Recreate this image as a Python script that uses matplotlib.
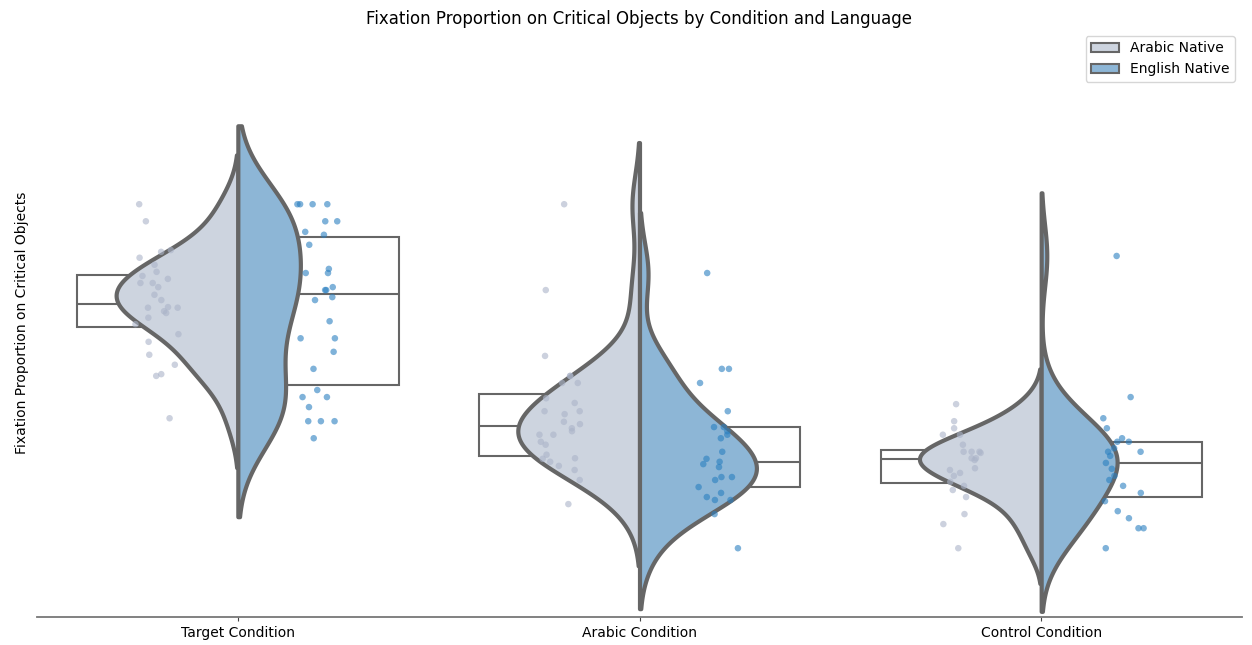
import numpy as np
import matplotlib
matplotlib.use("Agg")
import matplotlib.pyplot as plt
from matplotlib.patches import Patch

# ---------------- data ----------------
conditions = ["Target Condition", "Arabic Condition", "Control Condition"]
languages = ["Arabic Native", "English Native"]

target_arabic = [0.702, 0.673, 0.624, 0.621, 0.611, 0.599, 0.587, 0.580, 0.575, 0.568,
                 0.568, 0.561, 0.548, 0.539, 0.527, 0.526, 0.526, 0.520, 0.517, 0.509,
                 0.498, 0.481, 0.468, 0.446, 0.429, 0.413, 0.410, 0.338]
target_english = [0.702, 0.702, 0.702, 0.702, 0.673, 0.673, 0.655, 0.650, 0.633, 0.592,
                  0.585, 0.585, 0.561, 0.556, 0.556, 0.544, 0.539, 0.503, 0.474, 0.474,
                  0.451, 0.422, 0.386, 0.374, 0.374, 0.357, 0.333, 0.333, 0.333, 0.304]
arabiccond_arabic = [0.702, 0.556, 0.444, 0.410, 0.410, 0.398, 0.398, 0.372, 0.364, 0.350,
                     0.350, 0.345, 0.332, 0.328, 0.321, 0.316, 0.310, 0.310, 0.298, 0.293,
                     0.276, 0.270, 0.269, 0.264, 0.257, 0.250, 0.233, 0.192]
arabiccond_english = [0.585, 0.422, 0.422, 0.398, 0.350, 0.323, 0.323, 0.316, 0.310, 0.304,
                      0.281, 0.269, 0.264, 0.260, 0.255, 0.238, 0.238, 0.233, 0.221, 0.211,
                      0.204, 0.199, 0.199, 0.175, 0.117]
control_arabic = [0.362, 0.333, 0.321, 0.310, 0.310, 0.293, 0.281, 0.281, 0.281, 0.279,
                  0.270, 0.270, 0.267, 0.253, 0.250, 0.245, 0.240, 0.230, 0.223, 0.216,
                  0.204, 0.175, 0.158, 0.117]
control_english = [0.614, 0.374, 0.338, 0.321, 0.304, 0.298, 0.298, 0.287, 0.281, 0.281,
                   0.274, 0.262, 0.252, 0.240, 0.233, 0.223, 0.211, 0.197, 0.180, 0.168,
                   0.151, 0.151, 0.117]

groups = {
    ("Target Condition", "Arabic Native"): target_arabic,
    ("Target Condition", "English Native"): target_english,
    ("Arabic Condition", "Arabic Native"): arabiccond_arabic,
    ("Arabic Condition", "English Native"): arabiccond_english,
    ("Control Condition", "Arabic Native"): control_arabic,
    ("Control Condition", "English Native"): control_english,
}

# ---------------- style ----------------
violin_fill = {"Arabic Native": "#cdd4df", "English Native": "#8db6d6"}
point_color = {"Arabic Native": "#aab3c8", "English Native": "#2a7fc0"}
line_gray = "#666666"


def kde(values, cut=2.0):
    v = np.asarray(values, float)
    n = len(v)
    bw = v.std(ddof=1) * n ** (-1 / 5)
    grid = np.linspace(v.min() - cut * bw, v.max() + cut * bw, 300)
    dens = np.exp(-0.5 * ((grid[:, None] - v[None, :]) / bw) ** 2).sum(1)
    dens /= n * bw * np.sqrt(2 * np.pi)
    return grid, dens


fig = plt.figure(figsize=(12.52, 6.45), dpi=100)
ax = fig.add_axes([37 / 1252, 28 / 645, (1242 - 37) / 1252, 588 / 645])

rng = np.random.default_rng(3)
half_width = 0.303

for i, cond in enumerate(conditions):
    kdes = {lang: kde(groups[(cond, lang)]) for lang in languages}
    peak = max(d.max() for _, d in kdes.values())
    for j, lang in enumerate(languages):
        vals = np.asarray(groups[(cond, lang)])
        sign = -1 if j == 0 else 1
        # box (behind)
        ax.boxplot([vals], positions=[i + sign * 0.2], widths=0.4,
                   patch_artist=True, showfliers=False, showcaps=False,
                   whis=0, manage_ticks=False, zorder=1,
                   boxprops=dict(facecolor="white", edgecolor=line_gray, linewidth=1.5),
                   medianprops=dict(color=line_gray, linewidth=1.5),
                   whiskerprops=dict(visible=False))
        # violin half
        grid, dens = kdes[lang]
        w = dens / peak * half_width
        if j == 0:
            ax.fill_betweenx(grid, i - w, i, facecolor=violin_fill[lang],
                             edgecolor=line_gray, linewidth=3, zorder=2)
        else:
            ax.fill_betweenx(grid, i, i + w, facecolor=violin_fill[lang],
                             edgecolor=line_gray, linewidth=3, zorder=2)
        # strip points
        xs = i + sign * 0.2 + rng.uniform(-0.055, 0.055, len(vals))
        ax.scatter(xs, vals, s=22, color=point_color[lang], alpha=0.6,
                   edgecolors="none", zorder=3)

ax.set_xlim(-0.5, 2.5)
ax.set_ylim(0, 1.0)
ax.set_xticks(range(len(conditions)))
ax.set_xticklabels(conditions, fontsize=10)
ax.set_yticks([])
ax.set_ylabel("Fixation Proportion on Critical Objects", fontsize=10, labelpad=6)
ax.set_title("Fixation Proportion on Critical Objects by Condition and Language",
             fontsize=12, pad=3.8)
for s in ["left", "top", "right"]:
    ax.spines[s].set_visible(False)
ax.spines["bottom"].set_color("#777777")
ax.spines["bottom"].set_linewidth(1.3)
ax.tick_params(axis="x", length=3, color="#444444")

handles = [Patch(facecolor=violin_fill[l], edgecolor=line_gray, linewidth=1.5, label=l)
           for l in languages]
ax.legend(handles=handles, loc="upper right", fontsize=10, frameon=True)

fig.savefig("out.png", dpi=100)
